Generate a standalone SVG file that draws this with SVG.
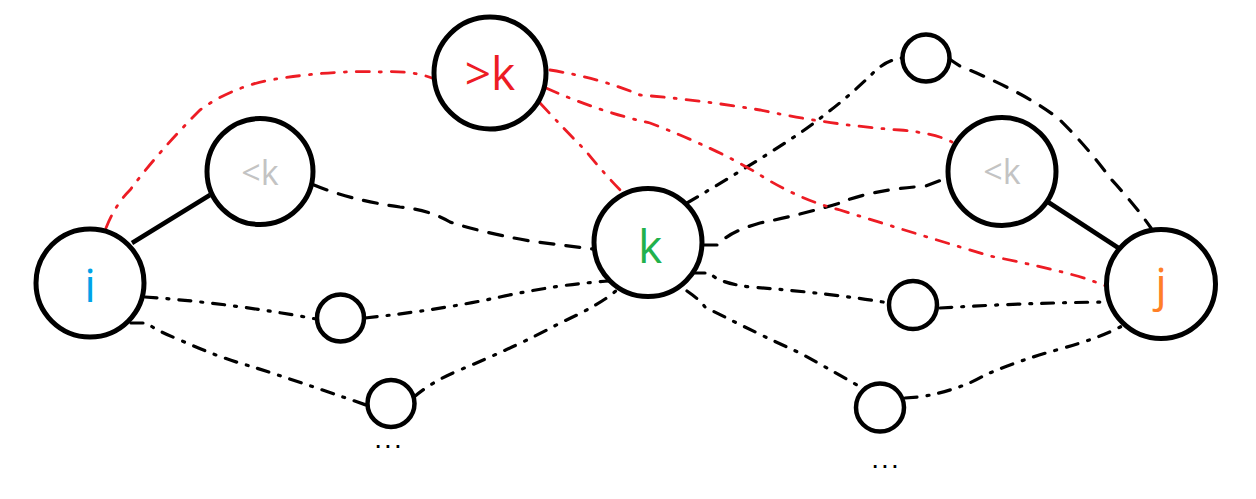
<svg xmlns="http://www.w3.org/2000/svg" width="1256" height="499" viewBox="0 0 1256 499">
<style>
.node{fill:#fff;stroke:#000;stroke-width:5}
.small{fill:#fff;stroke:#000;stroke-width:4.5}
.solid{fill:none;stroke:#000;stroke-width:4.5}
.bd{fill:none;stroke:#000;stroke-width:3.2;stroke-linecap:round;stroke-dasharray:12 10 2 10}
.bd2{fill:none;stroke:#000;stroke-width:3.2;stroke-linecap:round;stroke-dasharray:14 12}
.rd{fill:none;stroke:#ED1C24;stroke-width:2.8;stroke-linecap:round;stroke-dasharray:13 10 2 10}
.lbl{font-family:"Open Sans","Noto Sans",sans-serif;text-anchor:middle}
.big{font-size:46px}
.mid{font-size:34px;fill:#C3C3C3}
.dots{font-family:"Liberation Sans",sans-serif;font-size:28px;letter-spacing:2px;text-anchor:middle;fill:#000}
</style>
<rect width="1256" height="499" fill="#fff"/>
<g id="connectors">
<path class="solid" d="M132,243 L210,195"/>
<path class="solid" d="M1048,202 L1120,249"/>
<path class="bd2" d="M314,185 Q 350,200 400,207 Q 430,210 450,222 Q 480,232 530,241 L 592,249"/>
<path class="bd" d="M145,297 Q 230,303 316,319"/>
<path class="bd" d="M365,318 Q 440,310 500,297 T 610,281"/>
<path class="bd" d="M131,323 L147,323 Q 155,330 180,340 Q 220,358 250,366 Q 300,382 366,405"/>
<path class="bd" d="M414,397 Q 430,383 455,372 Q 520,345 560,323 Q 600,305 617,290"/>
<path class="bd" d="M687,203 Q 760,160 800,133 Q 840,105 871,75 Q 885,60 902,58"/>
<path class="bd2" d="M703,245 L718,245 Q 728,232 760,223 Q 800,215 840,203 Q 870,190 926,186 L947,178"/>
<path class="bd" d="M693,273 L710,273 Q 718,283 750,287 Q 830,293 889,303"/>
<path class="bd" d="M940,308 Q 1020,303 1106,302"/>
<path class="bd" d="M687,291 Q 700,300 705,307 Q 760,335 800,353 Q 840,375 862,388"/>
<path class="bd" d="M905,398 L920,397 Q 960,390 985,375 Q 1020,360 1060,349 Q 1100,338 1122,326"/>
<path class="bd2" d="M948,58 Q 955,63 960,66 Q 1030,95 1060,120 Q 1090,150 1110,178 Q 1135,205 1151,228"/>
<path class="rd" d="M106,228 Q 115,205 130,190 Q 160,150 200,110 Q 230,88 270,80 Q 330,70 380,72 Q 410,70 432,78"/>
<path class="rd" d="M550,70 Q 600,78 640,95 Q 700,100 760,110 Q 830,125 900,130 Q 935,133 952,142"/>
<path class="rd" d="M546,88 Q 600,112 650,123 Q 720,150 760,175 Q 800,200 840,210 Q 920,235 990,256 Q 1060,270 1090,280 L1106,286"/>
<path class="rd" d="M540,103 Q 565,130 585,150 Q 605,175 627,197"/>
</g>
<g id="node-i">
<circle class="node" cx="90" cy="283" r="54"/>
<text class="lbl big" x="90" y="302" fill="#00A2E8">i</text>
</g>
<g id="node-lk-left">
<circle class="node" cx="260" cy="171.5" r="53"/>
<text class="lbl mid" x="260" y="185">&lt;k</text>
</g>
<g id="node-gk">
<circle class="node" cx="490" cy="73" r="56"/>
<text class="lbl big" x="490" y="90" fill="#ED1C24">&gt;k</text>
</g>
<g id="node-k">
<circle class="node" cx="648" cy="242.5" r="54"/>
<text class="lbl big" x="650" y="263" fill="#22B14C">k</text>
</g>
<g id="node-top">
<circle class="small" cx="926" cy="58" r="23.5"/>
</g>
<g id="node-lk-right">
<circle class="node" cx="1002" cy="171.5" r="54"/>
<text class="lbl mid" x="1002" y="184">&lt;k</text>
</g>
<g id="node-j">
<circle class="node" cx="1161" cy="284" r="54.5"/>
<text class="lbl big" x="1161" y="301" fill="#FF7F27">j</text>
</g>
<g id="node-ml">
<circle class="small" cx="340.5" cy="318" r="23.5"/>
</g>
<g id="node-bl">
<circle class="small" cx="391" cy="403.5" r="23.5"/>
<text class="dots" x="389" y="448">...</text>
</g>
<g id="node-mr">
<circle class="small" cx="913" cy="305" r="24"/>
</g>
<g id="node-br">
<circle class="small" cx="880" cy="407.5" r="24"/>
<text class="dots" x="886" y="468">...</text>
</g>
</svg>
